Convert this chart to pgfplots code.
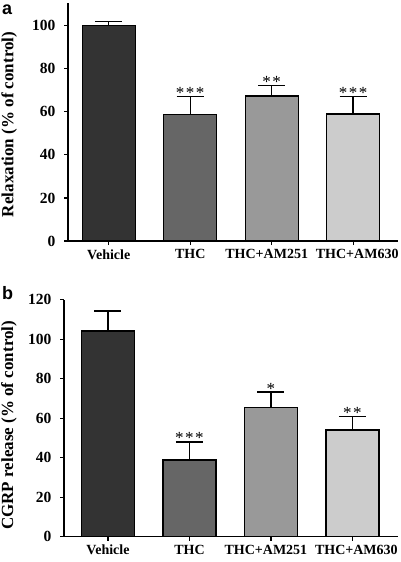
\documentclass[border=0pt]{standalone}
\usepackage{pgfplots}
\pgfplotsset{compat=1.18}
\usepackage{fontspec}
\setmainfont{Liberation Serif}
\newfontfamily\panelfont{Liberation Sans}
\definecolor{c1}{HTML}{333333}
\definecolor{c2}{HTML}{666666}
\definecolor{c3}{HTML}{999999}
\definecolor{c4}{HTML}{CCCCCC}
\newcommand{\stars}[1]{\fontsize{17}{17}\selectfont #1}
\pgfplotsset{mystyle/.style={
  scale only axis, ybar, bar width=53pt, bar shift=0pt,
  axis x line*=bottom, axis y line*=left,
  axis line style={line width=1.3pt, -},
  xtick={0,1,2,3}, xticklabels={Vehicle,THC,THC+AM251\kern10pt,\kern8pt THC+AM630},
  tick align=outside, major tick length=4pt,
  tick style={line width=1.2pt, black},
  x tick label style={font=\fontsize{14}{14}\selectfont\bfseries, yshift=-1pt},
  y tick label style={font=\fontsize{15.5}{15.5}\selectfont\bfseries, xshift=-5pt},
  /pgf/number format/assume math mode=true,
  ymin=0,
  ylabel style={font=\fontsize{17}{17}\selectfont\bfseries, anchor=center, rotate=0},
  every axis plot/.append style={draw=black, line width=1.4pt,
    error bars/y dir=plus, error bars/y explicit,
    error bars/error bar style={line width=1.4pt, black},
    error bars/error mark options={rotate=90, mark size=13.5pt, line width=1.4pt, black}},
}}
\begin{document}
\begin{tikzpicture}
\useasboundingbox (0,0) rectangle (401pt,-562pt);
\node[font=\panelfont\bfseries\fontsize{18}{18}\selectfont, anchor=base west, inner sep=0] at (2pt,-14pt) {a};
\node[font=\panelfont\bfseries\fontsize{18}{18}\selectfont, anchor=base west, inner sep=0] at (2pt,-299pt) {b};
\begin{axis}[mystyle, at={(68pt,-241pt)}, anchor=south west,
  width=330pt, height=238pt, xmin=-0.5, xmax=3.55, ymax=110.5,
  ytick={0,20,40,60,80,100},
  ylabel={Relaxation (\% of control)},
  ylabel style={at={(axis description cs:-0.178,0.49)}}]
\addplot[fill=c1] coordinates {(0,100) +- (0,2)};
\addplot[fill=c2] coordinates {(1,58.8) +- (0,8.2)};
\addplot[fill=c3] coordinates {(2,67.3) +- (0,4.9)};
\addplot[fill=c4] coordinates {(3,59) +- (0,8)};
\node[anchor=base, inner sep=0, yshift=-2pt] at (axis cs:1,67) {\stars{*\kern1.5pt*\kern1.5pt*}};
\node[anchor=base, inner sep=0, yshift=-2pt] at (axis cs:2,72.2) {\stars{*\kern1.5pt*}};
\node[anchor=base, inner sep=0, yshift=-2pt] at (axis cs:3,67) {\stars{*\kern1.5pt*\kern1.5pt*}};
\end{axis}
\begin{axis}[mystyle, at={(64pt,-536.7pt)}, anchor=south west,
  width=334pt, height=237pt, xmin=-0.54, xmax=3.56, ymax=120,
  ytick={0,20,40,60,80,100,120},
  ylabel={CGRP release (\% of control)},
  ylabel style={at={(axis description cs:-0.165,0.47)}}]
\addplot[fill=c1] coordinates {(0,104.2) +- (0,10)};
\addplot[fill=c2] coordinates {(1,38.8) +- (0,9.2)};
\addplot[fill=c3] coordinates {(2,65.4) +- (0,7.8)};
\addplot[fill=c4] coordinates {(3,54.1) +- (0,6.7)};
\node[anchor=base, inner sep=0, yshift=-2pt] at (axis cs:1,48) {\stars{*\kern1.5pt*\kern1.5pt*}};
\node[anchor=base, inner sep=0, yshift=-2pt] at (axis cs:2,73.2) {\stars{*}};
\node[anchor=base, inner sep=0, yshift=-2pt] at (axis cs:3,60.8) {\stars{*\kern1.5pt*}};
\end{axis}
\end{tikzpicture}
\end{document}
